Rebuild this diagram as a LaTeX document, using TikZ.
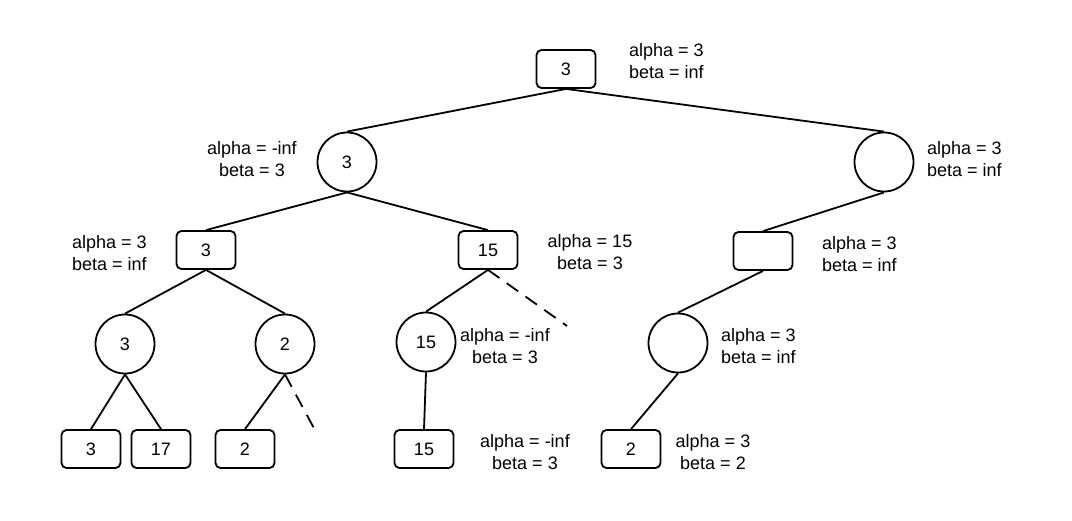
\documentclass[tikz,border=0pt]{standalone}
\usepackage{fontspec}
\setmainfont{Liberation Sans}
\begin{document}
\begin{tikzpicture}[x=1pt,y=-1pt,
  every node/.style={font=\fontsize{18}{22}\selectfont},
  maxbox/.style={draw,line width=1.8pt,rounded corners=5pt,minimum width=59pt,minimum height=38pt,inner sep=0pt},
  minnode/.style={draw,circle,line width=1.8pt,minimum size=59pt,inner sep=0pt},
  edge/.style={line width=1.8pt},
  pruned/.style={line width=1.8pt,dash pattern=on 14pt off 9pt},
  lab/.style={align=left,inner sep=0pt},
  labc/.style={align=center,inner sep=0pt}]
\useasboundingbox (0,0) rectangle (1072,520);
% nodes
\node[maxbox] (r) at (566,69) {3};
\node[minnode] (a) at (347,162) {3};
\node[minnode] (b) at (884,162) {};
\node[maxbox] (a1) at (206,250) {3};
\node[maxbox] (a2) at (488,250) {15};
\node[maxbox] (b1) at (763,251) {};
\node[minnode] (c1) at (125,344) {3};
\node[minnode] (c2) at (285,344) {2};
\node[minnode] (c3) at (426,342) {15};
\node[minnode] (c4) at (678,343) {};
\node[maxbox] (d1) at (91,449) {3};
\node[maxbox] (d2) at (161,449) {17};
\node[maxbox] (d3) at (245,449) {2};
\node[maxbox] (d4) at (424,449) {15};
\node[maxbox] (d5) at (631,449) {2};
\coordinate (p1) at (567,326);
\coordinate (p2) at (316,432);
% edges
\draw[edge] (r.south) -- (a.north);
\draw[edge] (r.south) -- (b.north);
\draw[edge] (a.south) -- (a1.north);
\draw[edge] (a.south) -- (a2.north);
\draw[edge] (b.south) -- (b1.north);
\draw[edge] (a1.south) -- (c1.north);
\draw[edge] (a1.south) -- (c2.north);
\draw[edge] (a2.south) -- (c3.north);
\draw[pruned] (a2.south) -- (p1);
\draw[edge] (b1.south) -- (c4.north);
\draw[edge] (c1.south) -- (d1.north);
\draw[edge] (c1.south) -- (d2.north);
\draw[edge] (c2.south) -- (d3.north);
\draw[pruned] (c2.south) -- (p2);
\draw[edge] (c3.south) -- (d4.north);
\draw[edge] (c4.south) -- (d5.north);
% labels
\node[lab,anchor=west] (lr) at (629,61) {alpha = 3\\beta = inf};
\node[labc] (la) at (252,159) {alpha = -inf\\beta = 3};
\node[lab,anchor=west] (lb) at (927,159) {alpha = 3\\beta = inf};
\node[lab,anchor=west] (la1) at (72,253) {alpha = 3\\beta = inf};
\node[labc] (la2) at (590,252) {alpha = 15\\beta = 3};
\node[lab,anchor=west] (lb1) at (822,254) {alpha = 3\\beta = inf};
\node[labc] (lc3) at (505,346) {alpha = -inf\\beta = 3};
\node[lab,anchor=west] (lc4) at (721,346) {alpha = 3\\beta = inf};
\node[labc] (ld4) at (525,452) {alpha = -inf\\beta = 3};
\node[labc] (ld5) at (713,452) {alpha = 3\\beta = 2};
\end{tikzpicture}
\end{document}
